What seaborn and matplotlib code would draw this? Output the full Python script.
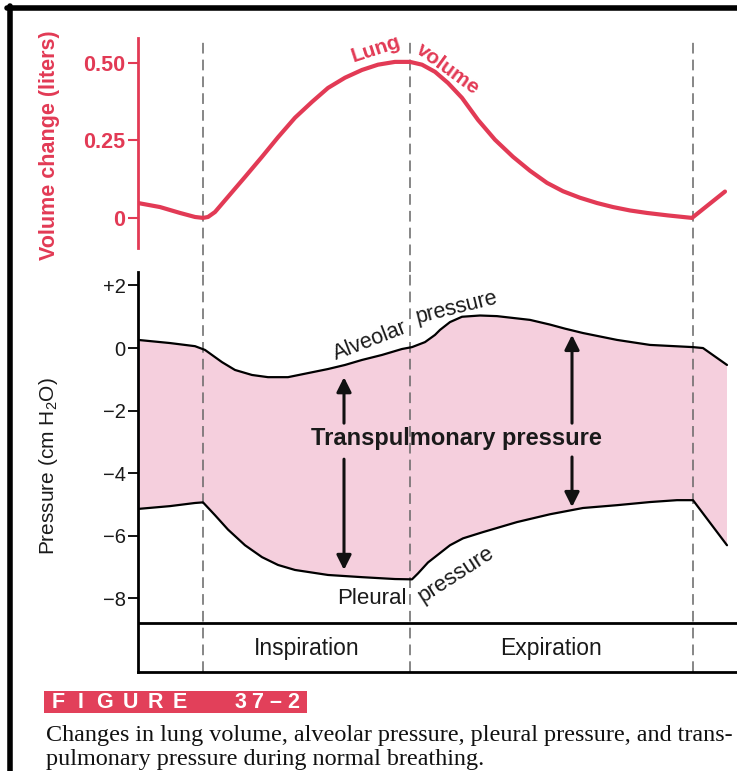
#%% IMPORTS
import matplotlib
matplotlib.use('Agg')
from matplotlib import pyplot as plt
from matplotlib.patches import Rectangle
from matplotlib.lines import Line2D
import seaborn as sns

#%% DATA (time axis in arbitrary units)
vol_t = [0.0, 0.22, 0.42, 0.57, 0.65, 0.70, 0.77, 0.90, 1.07, 1.24, 1.40, 1.57,
         1.74, 1.90, 2.07, 2.24, 2.40, 2.57, 2.72, 2.84, 2.97, 3.10, 3.24, 3.40,
         3.57, 3.75, 3.92, 4.09, 4.25, 4.42, 4.59, 4.75, 4.92, 5.09, 5.30, 5.54, 5.87]
vol_l = [0.048, 0.035, 0.016, 0.003, 0.0, 0.003, 0.019, 0.068, 0.132, 0.197, 0.26, 0.323,
         0.374, 0.419, 0.452, 0.477, 0.494, 0.503, 0.503, 0.494, 0.471, 0.435, 0.387, 0.316,
         0.252, 0.197, 0.152, 0.113, 0.086, 0.065, 0.048, 0.035, 0.024, 0.016, 0.008, 0.0, 0.085]

alv_t = [0.0, 0.32, 0.57, 0.67, 0.84, 0.97, 1.14, 1.30, 1.50, 1.70, 1.90, 2.07,
         2.24, 2.44, 2.64, 2.74, 2.87, 2.97, 3.02, 3.12, 3.24, 3.42, 3.59, 3.92,
         4.12, 4.27, 4.45, 4.79, 5.12, 5.55, 5.65, 5.89]
alv_p = [0.26, 0.16, 0.06, -0.06, -0.45, -0.70, -0.86, -0.93, -0.93, -0.80, -0.67, -0.54,
         -0.38, -0.22, -0.03, 0.03, 0.19, 0.42, 0.58, 0.83, 1.0, 1.04, 1.02, 0.90,
         0.75, 0.62, 0.48, 0.26, 0.10, 0.03, 0.0, -0.54]

ple_t = [0.0, 0.32, 0.57, 0.65, 0.77, 0.90, 1.07, 1.24, 1.40, 1.57, 1.90, 2.24,
         2.57, 2.74, 2.80, 2.90, 3.02, 3.12, 3.25, 3.45, 3.79, 4.12, 4.45, 4.79,
         5.12, 5.39, 5.55, 5.89]
ple_p = [-5.14, -5.05, -4.95, -4.93, -5.34, -5.80, -6.30, -6.68, -6.93, -7.09, -7.25, -7.32,
         -7.38, -7.39, -7.20, -6.85, -6.55, -6.30, -6.08, -5.88, -5.56, -5.31, -5.11, -5.02,
         -4.92, -4.86, -4.86, -6.30]

phase_t = [0.65, 2.72, 5.55]
phase_names = ['Inspiration', 'Expiration']

arrow_t = [2.06, 4.34]
arrow_up = [(-2.40, -0.93), (-2.40, 0.42)]
arrow_dn = [(-3.55, -7.09), (-3.48, -5.08)]

vol_ticks = [0, 0.25, 0.50]
vol_ticklabels = ['0', '0.25', '0.50']
p_ticks = [2, 0, -2, -4, -6, -8]
p_ticklabels = ['+2', '0', '\u22122', '\u22124', '\u22126', '\u22128']

fig_chars = ['F', 'I', 'G', 'U', 'R', 'E', '3', '7', '\u2013', '2']
fig_char_x = [58, 81, 105, 130, 155, 180, 240, 257, 275, 293]

#%% CONFIGURATION
RED = '#e23a55'
PINK = '#f5cfdd'
INK = '#1a1a1a'
W, H = 737, 771

sns.set_theme(style='white')
plt.rcParams['font.family'] = ['Liberation Sans', 'DejaVu Sans']
plt.rcParams['mathtext.default'] = 'regular'


def px_axes(fig, x0, y0, x1, y1):
    # pixel box (from top-left) -> figure axes
    return fig.add_axes([x0 / W, 1 - y1 / H, (x1 - x0) / W, (y1 - y0) / H])


#%% MAIN
fig = plt.figure(figsize=(W / 100, H / 100), dpi=100)
fig.patch.set_facecolor('white')

# ---- top panel: lung volume
ax1 = px_axes(fig, 138, 38, 737, 248)
ax1.set_facecolor('none')
ax1.set_xlim(0, 5.99)
ax1.set_ylim(-0.097, 0.58)
sns.lineplot(x=vol_t, y=vol_l, ax=ax1, color=RED, lw=3, sort=False, estimator=None)
for s in ['top', 'right', 'bottom']:
    ax1.spines[s].set_visible(False)
ax1.spines['left'].set_color(RED)
ax1.spines['left'].set_linewidth(2)
ax1.set_xticks([])
ax1.set_yticks(vol_ticks)
ax1.set_yticklabels(vol_ticklabels, color=RED, fontsize=15.5, fontweight='bold')
ax1.tick_params(axis='y', colors=RED, length=7, width=1.5, pad=2, left=True)
ax1.set_ylabel('Volume change (liters)', color=RED, fontsize=15.5, fontweight='bold')
ax1.yaxis.set_label_coords(-0.131, 0.49)
for t in phase_t:
    ax1.axvline(t, ymin=-0.115, ymax=1.0, color='#666666', lw=1.1,
                dashes=(7, 4), clip_on=False, zorder=1)
ax1.text(2.38, 0.545, 'Lung', color=RED, fontsize=15, fontweight='bold',
         rotation=18, ha='center', va='center')
ax1.text(3.10, 0.48, 'volume', color=RED, fontsize=15, fontweight='bold',
         rotation=-36, ha='center', va='center')

# ---- bottom panel: pressures
ax2 = px_axes(fig, 138, 272, 737, 672)
ax2.set_facecolor('none')
ax2.set_xlim(0, 5.99)
ax2.set_ylim(-10.35, 2.43)
ax2.fill(list(alv_t) + list(ple_t[::-1]), list(alv_p) + list(ple_p[::-1]),
         color=PINK, lw=0, zorder=0)
sns.lineplot(x=alv_t, y=alv_p, ax=ax2, color='black', lw=1.6, sort=False, estimator=None)
sns.lineplot(x=ple_t, y=ple_p, ax=ax2, color='black', lw=1.6, sort=False, estimator=None)
for t in phase_t:
    ax2.axvline(t, color='#666666', lw=1.1, dashes=(7, 4), zorder=1)
ax2.axhline(-8.78, color='black', lw=2)
for s in ['top', 'right']:
    ax2.spines[s].set_visible(False)
for s in ['left', 'bottom']:
    ax2.spines[s].set_color('black')
    ax2.spines[s].set_linewidth(2)
ax2.set_xticks([])
ax2.set_yticks(p_ticks)
ax2.set_yticklabels(p_ticklabels, fontsize=14.5)
ax2.tick_params(axis='y', colors='black', length=7, width=1.3, pad=2, left=True)
for lab in ax2.get_yticklabels():
    lab.set_color(INK)
ax2.set_ylabel('Pressure (cm H$_2$O)', fontsize=15, color=INK)
ax2.yaxis.set_label_coords(-0.131, 0.515)

# arrows
for t, up, dn in zip(arrow_t, arrow_up, arrow_dn):
    for a, b in [up, dn]:
        ax2.annotate('', xy=(t, b), xytext=(t, a),
                     arrowprops=dict(arrowstyle='-|>', color='#111111', lw=2.2,
                                     mutation_scale=22, shrinkA=0, shrinkB=0))

ax2.text(3.18, -2.88, 'Transpulmonary pressure', fontsize=17, fontweight='bold',
         ha='center', va='center', color=INK)
ax2.text(2.32, 0.22, 'Alveolar', fontsize=15.5, rotation=21, ha='center', va='center', color=INK)
ax2.text(3.19, 1.3, 'pressure', fontsize=15.5, rotation=14, ha='center', va='center', color=INK)
ax2.text(2.34, -8.0, 'Pleural', fontsize=16, ha='center', va='center', color=INK)
ax2.text(3.18, -7.25, 'pressure', fontsize=16, rotation=33, ha='center', va='center', color=INK)

# phase labels under the baseline
for name, a, b in zip(phase_names, phase_t[:-1], phase_t[1:]):
    ax2.text((a + b) / 2, -9.6, name, fontsize=16.5, ha='center', va='center', color=INK)

# ---- figure band and caption
fig.add_artist(Rectangle((44 / W, 1 - 713 / H), (307 - 44) / W, 22 / H,
                         transform=fig.transFigure, facecolor='#e2405a', edgecolor='none'))
for ch, cx in zip(fig_chars, fig_char_x):
    fig.text(cx / W, 1 - 702.5 / H, ch, color='white', fontsize=15.5,
             fontweight='bold', va='center', ha='center')
fig.text(46 / W, 1 - 736 / H,
         'Changes in lung volume, alveolar pressure, pleural pressure, and trans-',
         family=['Liberation Serif'], fontsize=17.4, va='center', ha='left', color='#111111')
fig.text(46 / W, 1 - 759 / H, 'pulmonary pressure during normal breathing.',
         family=['Liberation Serif'], fontsize=17.4, va='center', ha='left', color='#111111')

# black scan frame on top and left
fig.add_artist(Line2D([7 / W, 1], [1 - 8 / H, 1 - 8 / H], transform=fig.transFigure,
                      color='black', lw=4))
fig.add_artist(Line2D([9.5 / W, 9.5 / W], [0, 1 - 6 / H], transform=fig.transFigure,
                      color='black', lw=4))

fig.savefig('out.png', dpi=100)
